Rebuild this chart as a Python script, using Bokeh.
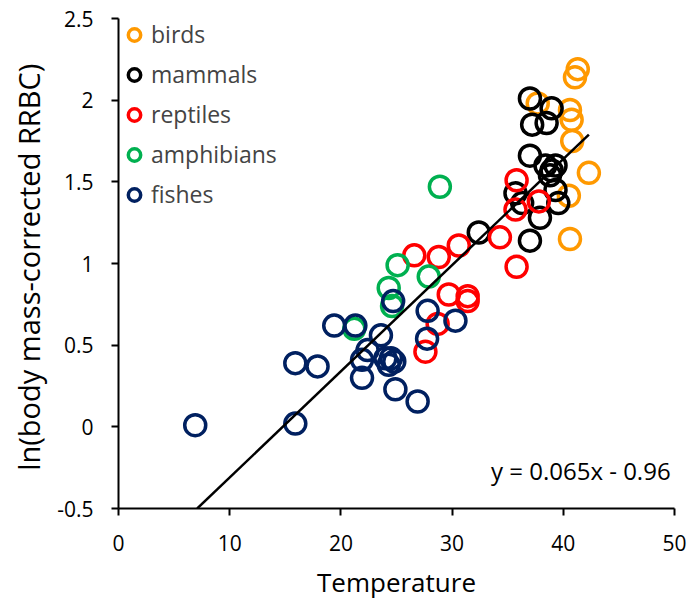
from bokeh.plotting import figure
from bokeh.models import ColumnDataSource, Legend, LegendItem, FixedTicker, Label
from bokeh.embed import file_html
from bokeh.resources import INLINE

# ---- data ----
birds_x = [41.3, 41.05, 40.6, 40.75, 40.8, 42.3, 40.5, 40.6, 37.7]
birds_y = [2.19, 2.14, 1.94, 1.88, 1.75, 1.555, 1.415, 1.15, 1.98]

mammals_x = [37.0, 38.95, 37.2, 38.5, 37.0, 38.4, 39.3, 38.95, 38.8, 35.7, 39.3, 39.55, 36.3, 37.9, 37.0, 32.4]
mammals_y = [2.01, 1.95, 1.85, 1.86, 1.66, 1.60, 1.60, 1.57, 1.54, 1.43, 1.45, 1.37, 1.37, 1.28, 1.14, 1.19]

reptiles_x = [35.8, 35.7, 37.8, 34.3, 30.6, 28.8, 26.6, 35.8, 29.7, 31.4, 31.4, 28.7, 27.6]
reptiles_y = [1.51, 1.33, 1.38, 1.16, 1.11, 1.04, 1.05, 0.98, 0.81, 0.80, 0.77, 0.63, 0.46]

amphibians_x = [28.9, 25.1, 24.3, 27.9, 24.6, 21.2]
amphibians_y = [1.47, 0.99, 0.85, 0.92, 0.74, 0.60]

fishes_x = [6.9, 15.9, 15.9, 17.9, 19.4, 21.3, 23.6, 22.4, 21.9, 21.9, 24.0, 24.5, 24.3, 24.8,
            24.9, 26.9, 24.7, 27.8, 27.75, 30.3]
fishes_y = [0.01, 0.02, 0.39, 0.37, 0.62, 0.62, 0.56, 0.47, 0.41, 0.30, 0.42, 0.42, 0.38, 0.40,
            0.23, 0.155, 0.77, 0.71, 0.54, 0.65]

series_names = ["birds", "mammals", "reptiles", "amphibians", "fishes"]
series_colors = ["#FF9900", "#000000", "#FF0000", "#00B050", "#002060"]

fit_slope = 0.065
fit_intercept = -0.96
fit_x_range = [7.08, 42.3]
equation_text = "y = 0.065x - 0.96"

x_ticks = [0, 10, 20, 30, 40, 50]
x_tick_labels = ["0", "10", "20", "30", "40", "50"]
y_ticks = [-0.5, 0, 0.5, 1, 1.5, 2, 2.5]
y_tick_labels = ["-0.5", "0", "0.5", "1", "1.5", "2", "2.5"]

x_label = "Temperature"
y_label = "ln(body mass-corrected  RRBC)"

FONT = "Open Sans"

p = figure(width=689, height=602, output_backend="svg", toolbar_location=None,
           x_range=(0, 50), y_range=(-0.5, 2.5),
           min_border_left=118, min_border_right=15, min_border_top=18, min_border_bottom=93)
p.outline_line_color = None
p.grid.visible = False
p.background_fill_color = "white"

xs = [birds_x, mammals_x, reptiles_x, amphibians_x, fishes_x]
ys = [birds_y, mammals_y, reptiles_y, amphibians_y, fishes_y]
items = []
for name, col, sx, sy in zip(series_names, series_colors, xs, ys):
    src = ColumnDataSource(dict(x=sx, y=sy))
    r = p.scatter("x", "y", source=src, marker="circle", size=21, line_width=3.5,
                  line_color=col, fill_color=None)
    items.append(LegendItem(label=name, renderers=[r]))

fx = fit_x_range
fy = [fit_slope * v + fit_intercept for v in fx]
p.line(fx, fy, line_color="black", line_width=2.5)

legend = Legend(items=items, location="top_left", margin=0, padding=4, spacing=8,
                glyph_width=32, glyph_height=31, label_height=31, label_standoff=1,
                label_text_font=FONT, label_text_font_size="23px",
                border_line_color=None, background_fill_alpha=0)
p.add_layout(legend)

p.add_layout(Label(x=49.65, y=-0.27, text=equation_text, text_align="right",
                   text_baseline="alphabetic", text_font=FONT, text_font_size="24px",
                   text_color="black"))

for ax in (p.xaxis[0], p.yaxis[0]):
    ax.axis_line_color = "black"
    ax.axis_line_width = 2
    ax.major_tick_line_color = "black"
    ax.major_tick_line_width = 2
    ax.major_tick_in = 0
    ax.major_tick_out = 7
    ax.minor_tick_line_color = None
    ax.major_label_text_font = FONT
    ax.major_label_text_font_size = "21px"
    ax.major_label_text_color = "black"
    ax.axis_label_text_font = FONT
    ax.axis_label_text_font_style = "normal"
    ax.axis_label_text_color = "black"

p.xaxis[0].ticker = FixedTicker(ticks=x_ticks)
p.xaxis[0].major_label_overrides = {t: s for t, s in zip(x_ticks, x_tick_labels)}
p.yaxis[0].ticker = FixedTicker(ticks=y_ticks)
p.yaxis[0].major_label_overrides = {t: s for t, s in zip(y_ticks, y_tick_labels)}

p.xaxis[0].axis_label = x_label
p.xaxis[0].axis_label_text_font_size = "26px"
p.xaxis[0].major_label_standoff = 19
p.xaxis[0].axis_label_standoff = 10

p.yaxis[0].axis_label = y_label
p.yaxis[0].axis_label_text_font_size = "29px"
p.yaxis[0].major_label_standoff = 18
p.yaxis[0].axis_label_standoff = 6

open("out.html", "w").write(file_html(p, INLINE))
